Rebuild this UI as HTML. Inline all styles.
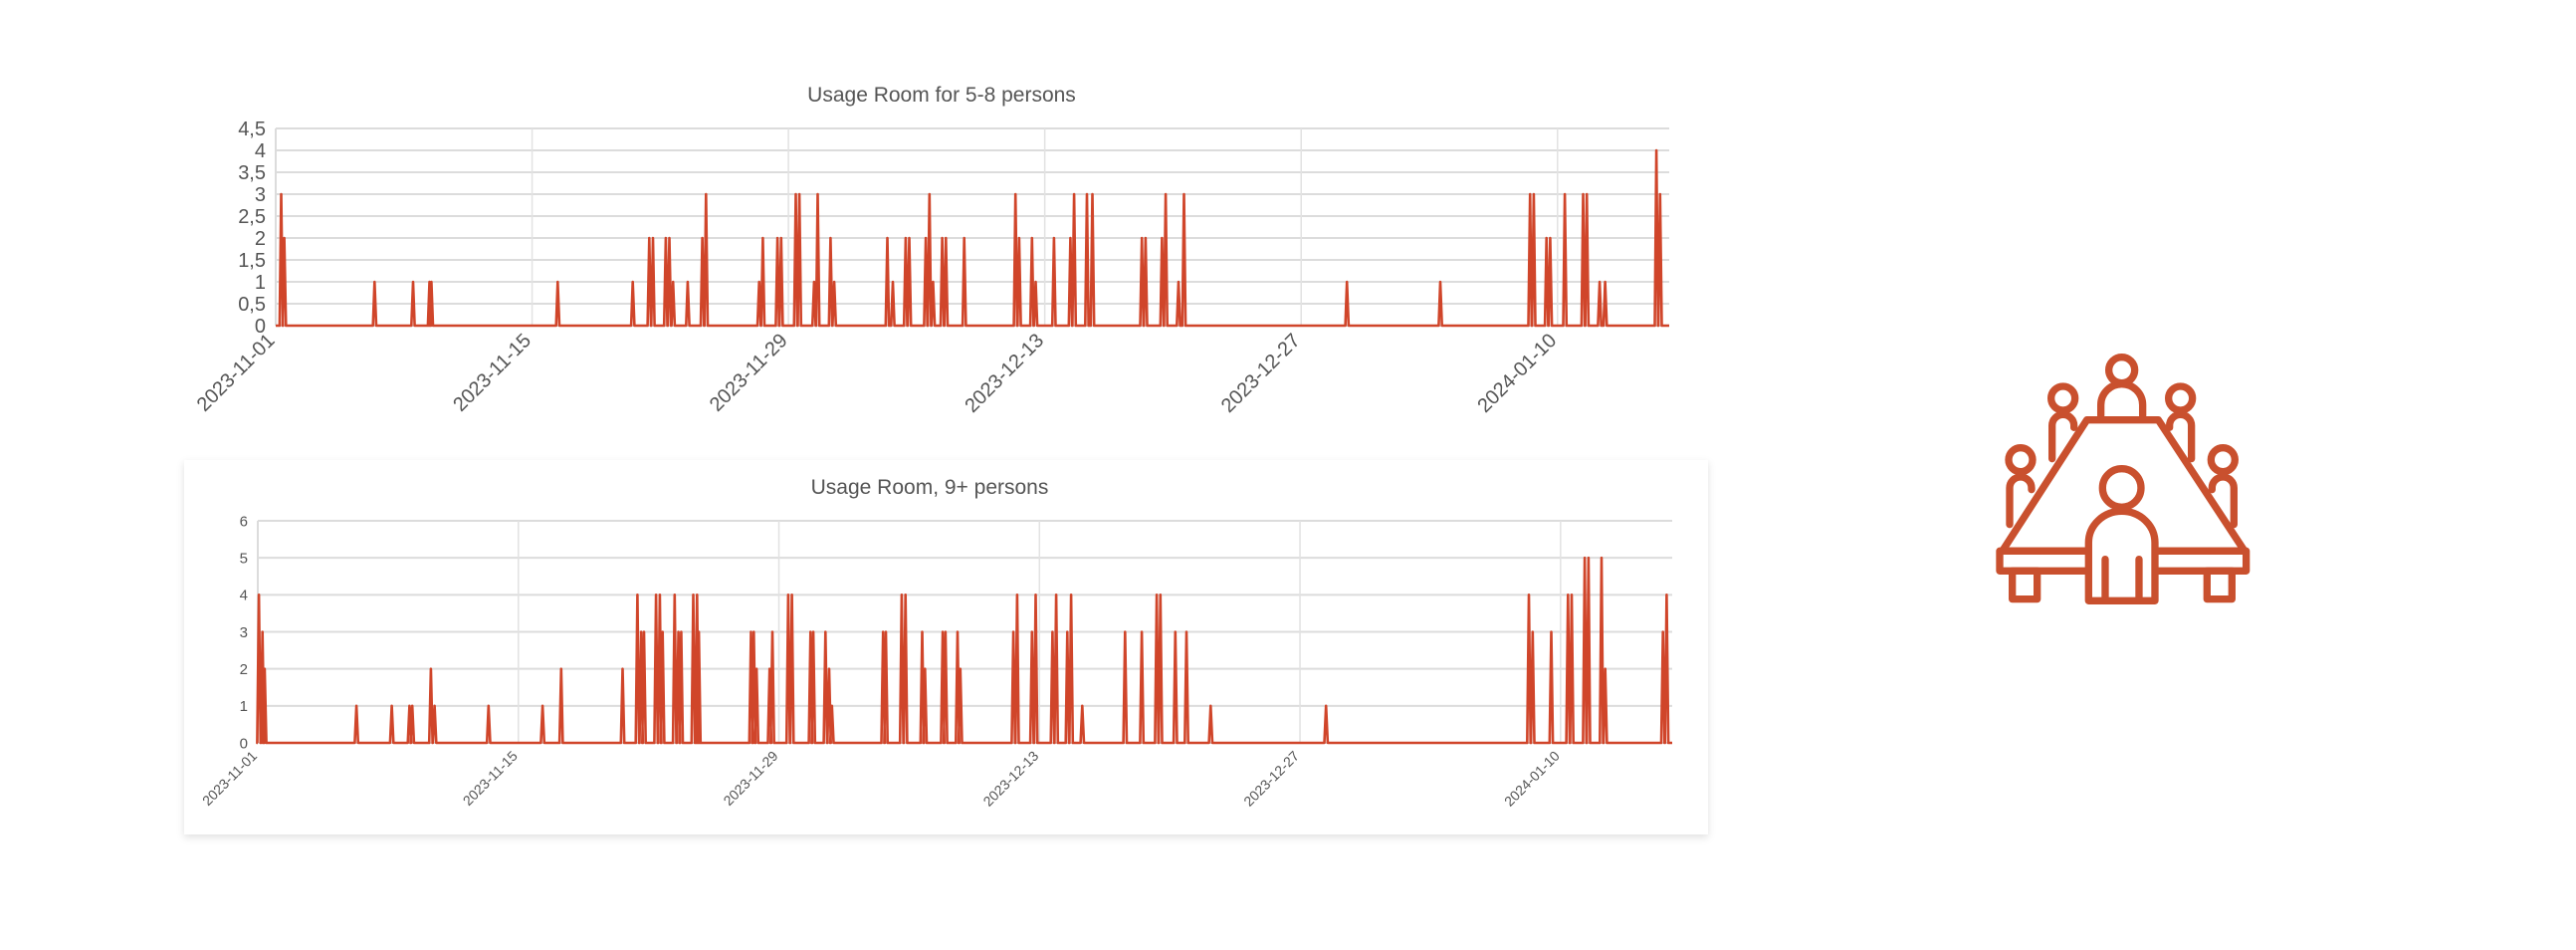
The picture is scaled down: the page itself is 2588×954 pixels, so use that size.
<!DOCTYPE html>
<html><head><meta charset="utf-8"><style>
html,body{margin:0;padding:0;background:#fff;}
svg{display:block;font-family:"Liberation Sans",sans-serif;}
</style></head><body>
<svg id="root" width="2588" height="954" viewBox="0 0 2588 954">
<defs><filter id="sh" x="-5%" y="-5%" width="110%" height="115%"><feDropShadow dx="0" dy="3" stdDeviation="4" flood-color="#000" flood-opacity="0.12"/></filter></defs>
<rect x="185" y="462" width="1531" height="376" fill="#fff" filter="url(#sh)"/>
<g id="c1"></g>
<g id="c2"></g>
<g transform="translate(1980,340) scale(0.3333)" fill="none" stroke="#c9502e" stroke-width="22" stroke-linejoin="round" stroke-linecap="round">
<circle cx="455" cy="95" r="39"/>
<path d="M392,232 V200 a63,63 0 0 1 126,0 V232"/>
<circle cx="278" cy="180" r="36"/>
<path d="M245,362 V262 a33,33 0 0 1 66,0 V268"/>
<circle cx="632" cy="180" r="36"/>
<path d="M599,268 V262 a33,33 0 0 1 66,0 V362"/>
<circle cx="150" cy="365" r="36"/>
<path d="M117,560 V450 a33,33 0 0 1 66,0 V455"/>
<circle cx="760" cy="365" r="36"/>
<path d="M727,455 V450 a33,33 0 0 1 66,0 V560"/>
<path d="M350,245 H565 L825,640 H95 Z"/>
<rect x="87" y="640" width="743" height="60"/>
<rect x="125" y="700" width="75" height="85"/>
<rect x="712" y="700" width="75" height="85"/>
<path d="M355,790 V615 a100,95 0 0 1 200,0 V790 Z" fill="#fff"/>
<circle cx="455" cy="450" r="58" fill="#fff"/>
<path d="M405,665 V785 M507,665 V785"/>
</g>
</svg>
<script>
// chart 1 data (day offset from 2023-11-01, value)
const days1 = [0.3,0.47,5.4,7.5,8.4,8.5,15.4,19.5,20.4,20.6,21.3,21.5,21.7,22.5,23.3,23.5,26.4,26.6,27.4,27.6,28.4,28.6,29.4,29.6,30.3,30.5,33.4,33.7,34.4,34.6,35.5,35.7,35.9,36.4,36.6,37.6,40.4,40.6,41.3,41.5,42.5,43.4,43.6,44.3,44.6,47.3,47.5,48.4,48.6,49.3,49.6,58.5,63.6,68.5,68.7,69.4,69.6,70.4,71.4,71.6,72.3,72.6,75.4,75.6];
const vals1 = [3,2,1,1,1,1,1,1,2,2,2,2,1,1,2,3,1,2,2,2,3,3,1,3,2,1,2,1,2,2,2,3,1,2,2,2,3,2,2,1,2,2,3,3,3,2,2,2,3,1,3,1,1,3,3,2,2,3,3,3,1,1,4,3];
const yTicks1 = ["0","0,5","1","1,5","2","2,5","3","3,5","4","4,5"];
// chart 2 data
const days2 = [0.06,0.25,0.37,5.3,7.2,8.15,8.3,9.3,9.5,12.4,15.3,16.3,19.6,20.4,20.6,20.75,21.4,21.6,21.75,22.4,22.6,22.75,23.4,23.6,23.7,26.5,26.65,26.8,27.5,27.65,28.5,28.7,29.7,29.85,30.5,30.7,30.85,33.6,33.75,34.6,34.8,35.7,35.85,36.8,36.95,37.6,37.75,40.6,40.8,41.6,41.8,42.7,42.9,43.5,43.7,44.3,46.6,47.5,48.3,48.5,49.3,49.9,51.2,57.4,68.3,68.5,69.5,70.4,70.6,71.3,71.5,72.2,72.4,75.5,75.7];
const vals2 = [4,3,2,1,1,1,1,2,1,1,1,2,2,4,3,3,4,4,3,4,3,3,4,4,3,3,3,2,2,3,4,4,3,3,3,2,1,3,3,4,4,3,2,3,3,3,2,3,4,3,4,3,4,3,4,1,3,3,4,4,3,3,1,1,4,3,3,4,4,5,5,5,2,3,4];
const yTicks2 = ["0","1","2","3","4","5","6"];
const xTickLabels = ["2023-11-01","2023-11-15","2023-11-29","2023-12-13","2023-12-27","2024-01-10"];
const xTickDays = [0,14,28,42,56,70];

const NS="http://www.w3.org/2000/svg";
function mk(parent,tag,attrs,text){const e=document.createElementNS(NS,tag);for(const k in attrs)e.setAttribute(k,attrs[k]);if(text!==undefined)e.textContent=text;parent.appendChild(e);return e;}

function drawChart(g,cfg,days,vals,yTicks){
  const xs=d=>cfg.left+(d/cfg.maxDay)*(cfg.right-cfg.left);
  const ys=v=>cfg.zero-(v/cfg.maxY)*(cfg.zero-cfg.top);
  const t=mk(g,'text',{x:cfg.titleX,y:cfg.titleY,'text-anchor':'middle','font-size':cfg.titleSize,fill:'#555'},cfg.title);
  
  
  yTicks.forEach((lab,i)=>{
    const v=i*cfg.maxY/(yTicks.length-1);
    const l=mk(g,'line',{x1:cfg.left,x2:cfg.right,y1:ys(v),y2:ys(v),stroke:'#dcdcdc','stroke-width':2});
    
    
    const tx=mk(g,'text',{x:cfg.left-10,y:ys(v)+cfg.ySize*0.35,'text-anchor':'end','font-size':cfg.ySize,fill:'#555'},lab);
    
    
  });
  xTickDays.forEach((d,i)=>{
    const x=xs(d);
    if(i>0){const l=mk(g,'line',{x1:x,x2:x,y1:cfg.top,y2:cfg.zero,stroke:'#e2e2e2','stroke-width':1.5});
    
    }
    const ty=cfg.zero+cfg.xOff;
    const tx=mk(g,'text',{x:x,y:ty,'text-anchor':'end','font-size':cfg.xSize,fill:'#555',transform:`rotate(-45 ${x} ${ty})`},xTickLabels[i]);
    
    
  });
  mk(g,'line',{x1:cfg.left,x2:cfg.left,y1:cfg.top,y2:cfg.zero,stroke:'#dcdcdc','stroke-width':2});
  const w=0.09;
  let pts=[[0,0]];
  days.forEach((d,i)=>{pts.push([d-w,0],[d,vals[i]],[d+w,0]);});
  pts.push([cfg.maxDay,0]);
  const dstr=pts.map((p,i)=>(i?'L':'M')+xs(p[0]).toFixed(1)+','+ys(p[1]).toFixed(1)).join(' ');
  const p=mk(g,'path',{d:dstr,fill:'none',stroke:'#d0452a','stroke-width':2.6,'stroke-linejoin':'round'});
  
  
}
drawChart(document.getElementById('c1'),{left:277,right:1677,top:129,zero:327,maxDay:76.1,maxY:4.5,title:'Usage Room for 5-8 persons',titleX:946,titleY:102,titleSize:21,ySize:20,xSize:20,xOff:16},days1,vals1,yTicks1);
drawChart(document.getElementById('c2'),{left:259,right:1680,top:523,zero:746,maxDay:76,maxY:6,title:'Usage Room, 9+ persons',titleX:934,titleY:496,titleSize:21,ySize:15,xSize:14,xOff:14},days2,vals2,yTicks2);
</script>
</body></html>
